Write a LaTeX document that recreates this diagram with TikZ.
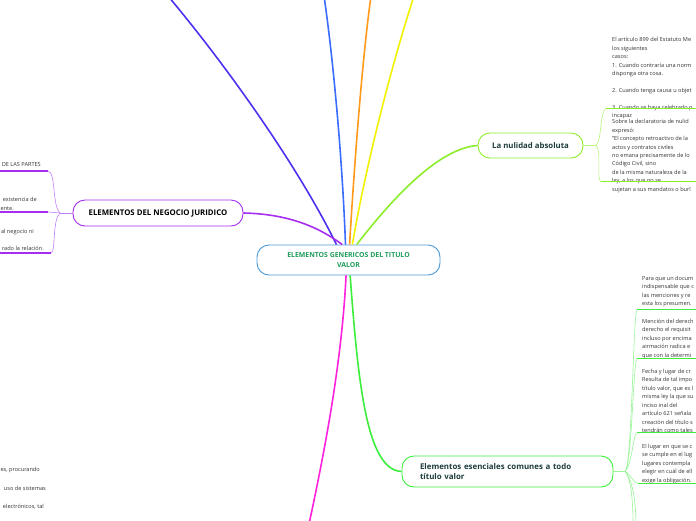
\documentclass[tikz,border=0pt]{standalone}
\usepackage{fontspec}
\setmainfont{Open Sans}
\usepackage{tikz}
\usetikzlibrary{calc}

\definecolor{ctrblue}{HTML}{4A9AD8}
\definecolor{ctrgreen}{HTML}{1E9C5A}
\definecolor{purp}{HTML}{A52EF0}
\definecolor{purplite}{HTML}{C080F5}
\definecolor{indig}{HTML}{4B32F0}
\definecolor{blu}{HTML}{3A6CFF}
\definecolor{orng}{HTML}{FF9A1A}
\definecolor{yell}{HTML}{F2F200}
\definecolor{lime}{HTML}{8CEE2A}
\definecolor{limelite}{HTML}{B8F57A}
\definecolor{mag}{HTML}{FF22DD}
\definecolor{grn}{HTML}{3CEE3C}
\definecolor{grnlite}{HTML}{98F598}
\definecolor{teal}{HTML}{1D3C3C}
\definecolor{notegray}{HTML}{333333}

\begin{document}
\begin{tikzpicture}[x=1pt,y=-1pt,
	topic/.style={draw, fill=white, rounded corners=12pt, line width=0.9pt,
		font=\fontsize{7.8}{10}\selectfont\bfseries},
	note/.style={anchor=north west, align=left, inner sep=0pt,
		font=\fontsize{5.6}{8.4}\selectfont, text=notegray},
	cut/.style={anchor=base east, inner sep=0pt,
		font=\fontsize{5.6}{8.4}\selectfont, text=notegray},
	main/.style={line width=1.6pt},
	twig/.style={line width=0.6pt},
	under/.style={line width=1.5pt}]

\path[use as bounding box] (0,0) rectangle (696,520);
\clip (0,0) rectangle (696,520);

\node[topic, draw=ctrblue, text=ctrgreen, minimum width=183pt, minimum height=30pt,
	align=center, font=\fontsize{6.9}{10.5}\selectfont\bfseries] (root) at (348.5,260)
	{ELEMENTOS GENERICOS DEL TITULO\\VALOR};
\node[topic, draw=purp, text=black, minimum width=170pt, minimum height=26pt] (negocio)
	at (158,213) {ELEMENTOS DEL NEGOCIO JURIDICO};
\node[topic, draw=lime, text=teal, minimum width=105pt, minimum height=25pt] (nulidad)
	at (530.5,145.5) {La nulidad absoluta};
\node[topic, draw=grn, text=teal, minimum height=31pt, text width=175pt, inner xsep=18pt,
	align=left, font=\fontsize{7.9}{10}\selectfont\bfseries] (esencial) at (507.5,471.5)
	{Elementos esenciales comunes a todo\\título valor};

\coordinate (offA) at (168,-4);
\coordinate (offB) at (324,-4);
\coordinate (offC) at (371,-4);
\coordinate (offD) at (414,-4);
\coordinate (offE) at (309,524);
\draw[main, indig] (root.128) .. controls (300,170) and (230,70) .. (offA);
\draw[main, blu] (root.101) .. controls (342,150) and (332,50) .. (offB);
\draw[main, orng] (root.86) .. controls (354,170) and (362,60) .. (offC);
\draw[main, yell] (root.76) .. controls (365,170) and (390,70) .. (offD);
\draw[main, purp] (root.112) .. controls (320,228) and (290,214) .. (negocio.east);
\draw[main, lime] (root.62) .. controls (395,195) and (440,148) .. (nulidad.west);
\draw[main, mag] (root.261) .. controls (342,360) and (325,450) .. (offE);
\draw[main, grn] (root.276) .. controls (358,380) and (366,470) .. (esencial.west);

\coordinate (nj) at (60,213);
\coordinate (p1) at (48,171);
\coordinate (p2) at (48,212);
\coordinate (p3) at (51,253);
\draw[twig, purplite] (negocio.west) -- (nj);
\draw[twig, purplite] (nj) .. controls (52,206) and (56,172) .. (p1);
\draw[twig, purplite] (nj) -- (p2);
\draw[twig, purplite] (nj) .. controls (52,220) and (56,252) .. (p3);
\draw[under, purp] (p1) -- (0,171);
\draw[under, purp] (p2) -- (0,212);
\draw[under, purp] (p3) -- (0,253);
\node[cut] (partes) at (41,166) {DE LAS PARTES};
\node[cut] (exist) at (37,201.5) {existencia de};
\node[cut] (ente) at (14,210) {ente.};
\node[cut] (negni) at (34,233.5) {al negocio ni};
\node[cut] (relac) at (44,250.5) {rado la relación.};
\node[cut] (procur) at (40,471.5) {es, procurando};
\node[cut] (sistem) at (46,490.5) {uso de sistemas};
\node[cut] (electr) at (44,508.5) {electrónicos, tal};

\coordinate (nl) at (596,145.5);
\coordinate (n1) at (606,108.5);
\coordinate (n2) at (601,181.5);
\draw[twig, limelite] (nulidad.east) -- (nl);
\draw[twig, limelite] (nl) .. controls (602,140) and (600,110) .. (n1);
\draw[twig, limelite] (nl) .. controls (602,152) and (596,180) .. (n2);
\node[note] (art) at (612,37.5) {El artículo 899 del Estatuto Me\\los siguientes\\casos:\\
	1. Cuando contraría una norm\\disponga otra cosa.\\[8.4pt]
	2. Cuando tenga causa u objet\\[8.4pt]
	3. Cuando se haya celebrado p\\incapaz};
\node[note] (sobre) at (612,119.5) {Sobre la declaratoria de nulid\\expresó:\\
	"El concepto retroactivo de la\\actos y contratos civiles\\
	no emana precisamente de lo\\Código Civil, sino\\
	de la misma naturaleza de la\\ley, a los que no se\\
	sujetan a sus mandatos o burl};
\draw[under, lime] (n1) -- (700,108.5);
\draw[under, lime] (n2) -- (700,181.5);

\coordinate (ej) at (625,471.5);
\coordinate (e1) at (637,309.5);
\coordinate (e2) at (637,358.5);
\coordinate (e3) at (637,432.5);
\coordinate (e4) at (638,483.5);
\coordinate (e5) at (633,526);
\coordinate (e6) at (636,526);
\draw[twig, grnlite] (esencial.east) -- (ej);
\draw[twig, grnlite] (ej) .. controls (632,466) and (633,316) .. (e1);
\draw[twig, grnlite] (ej) .. controls (632,466) and (633,362) .. (e2);
\draw[twig, grnlite] (ej) .. controls (632,466) and (633,434) .. (e3);
\draw[twig, grnlite] (ej) .. controls (631,474) and (633,483) .. (e4);
\draw[twig, grnlite] (ej) .. controls (631,478) and (633,500) .. (e5);
\draw[twig, grnlite] (ej) .. controls (632,478) and (636,500) .. (e6);
\begin{scope}[note/.append style={font=\fontsize{5.6}{8.5}\selectfont}]
\node[note] (docum) at (642,276) {Para que un docum\\indispensable que c\\
	las menciones y re\\esta los presumen.};
\node[note] (mencion) at (642,319) {Mención del derech\\derecho el requisit\\
	incluso por encima\\airmación radica e\\que con la determi};
\node[note] (fecha) at (642,369) {Fecha y lugar de cr\\Resulta de tal impo\\
	título valor, que es l\\misma ley la que su\\inciso inal del\\
	artículo 621 señala\\creación del título s\\tendrán como tales};
\node[note] (lugar) at (642,444) {El lugar en que se c\\se cumple en el lug\\
	lugares contempla\\elegir en cuál de ell\\exige la obligación.};
\end{scope}
\draw[under, grn] (e1) -- (700,309.5);
\draw[under, grn] (e2) -- (700,358.5);
\draw[under, grn] (e3) -- (700,432.5);
\draw[under, grn] (e4) -- (700,483.5);
\end{tikzpicture}
\end{document}
